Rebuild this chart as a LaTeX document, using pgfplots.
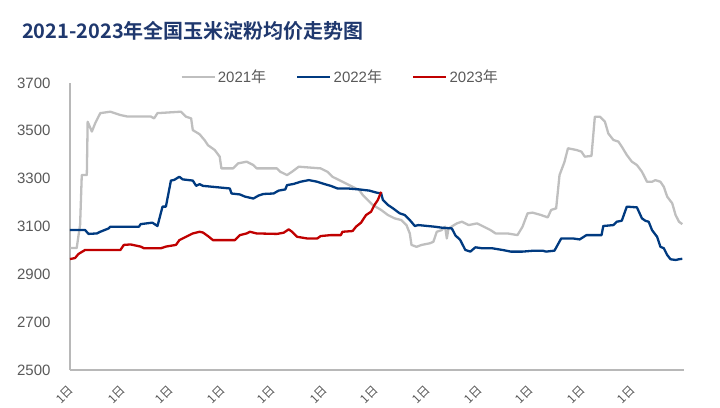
\documentclass[border=0pt]{standalone}
\usepackage{pgfplots}
\pgfplotsset{compat=1.18}
\usepackage{fontspec}
\setmainfont{Liberation Sans}
\newfontfamily\cjk[BoldFont={Noto Sans CJK SC Bold}]{Noto Sans CJK SC}
\definecolor{c21}{RGB}{191,191,191}
\definecolor{c22}{RGB}{0,58,128}
\definecolor{c23}{RGB}{192,0,0}
\definecolor{titlec}{RGB}{31,56,110}
\definecolor{tickc}{RGB}{89,89,89}
\begin{document}
\begin{tikzpicture}
\useasboundingbox (-70pt,-37pt) rectangle (650pt,370pt);
\node[anchor=west,font={\cjk\bfseries\fontsize{20}{20}\selectfont},text=titlec,inner sep=0pt] at (-48pt,339pt) {2021-2023年全国玉米淀粉均价走势图};
\begin{axis}[
  at={(0pt,0pt)}, anchor=south west,
  scale only axis, width=614pt, height=287pt,
  xmin=0, xmax=365, ymin=2500, ymax=3700,
  axis x line*=bottom, axis y line*=left,
  axis line style={draw=black!28, line width=1.4pt, -},
  major tick length=0pt,
  ytick={2500,2700,2900,3100,3300,3500,3700},
  xtick={0,31,59,90,120,151,181,212,243,273,304,334},
  xticklabels={1日,1日,1日,1日,1日,1日,1日,1日,1日,1日,1日,1日},
  xticklabel style={rotate=45, anchor=east, font={\cjk\fontsize{12}{12}\selectfont}, text=tickc, yshift=-14pt, xshift=-11pt, inner sep=1pt},
  yticklabel style={font=\fontsize{15}{15}\selectfont, text=tickc, anchor=east, xshift=-16pt},
  /pgf/number format/assume math mode=true,
  /pgf/number format/1000 sep={},
  legend style={draw=none, at={(0.44,1.021)}, anchor=center, legend columns=3, font=\fontsize{15}{15}\selectfont, text=tickc, /tikz/every even column/.append style={column sep=28pt}, inner sep=0pt},
  legend image code/.code={\draw[#1, line width=2.5pt] (0pt,0pt) -- (33pt,0pt);},
  every axis plot/.append style={line width=2.3pt, line join=round, no markers},
]
\addplot[c21] coordinates {(0,3010)(4,3010)(5,3060)(6,3106)(7,3315)(10,3315)(10.5,3538)(13,3497)(15,3532)(18,3574)(24,3580)(30,3566)(34,3560)(48,3560)(50,3552)(52,3574)(59,3577)(66,3580)(69,3559)(72,3552)(73,3503)(77,3486)(80,3461)(82,3440)(86,3420)(89,3392)(90,3343)(97,3343)(100,3364)(105,3371)(109,3357)(111,3343)(123,3343)(125,3329)(129,3315)(132,3329)(136,3350)(149,3343)(153,3329)(156,3308)(160,3294)(166,3273)(170,3259)(172,3252)(174,3232)(178,3204)(180,3190)(185,3169)(189,3148)(193,3134)(197,3127)(200,3106)(202,3071)(203,3023)(206,3015)(209,3023)(214,3030)(216,3036)(218,3078)(221,3085)(223,3099)(224,3050)(225,3092)(230,3113)(233,3120)(237,3106)(242,3113)(246,3099)(250,3085)(253,3071)(260,3071)(266,3064)(269,3099)(272,3155)(275,3158)(280,3148)(284,3138)(286,3169)(289,3176)(291,3315)(294,3371)(296,3427)(301,3420)(304,3413)(306,3392)(310,3395)(312,3559)(315,3559)(318,3538)(320,3489)(323,3462)(326,3455)(328,3434)(331,3399)(334,3371)(337,3357)(340,3329)(343,3287)(346,3287)(348,3294)(351,3287)(353,3266)(355,3225)(358,3197)(360,3148)(362,3120)(364,3110)};
\addlegendentry{2021{\cjk 年}}
\addplot[c22] coordinates {(0,3085)(9,3085)(11,3069)(16,3071)(18,3078)(23,3092)(24,3099)(41,3099)(42,3110)(49,3116)(52,3102)(55,3183)(57,3183)(60,3292)(62,3295)(65,3308)(67,3297)(73,3292)(75,3270)(77,3277)(79,3270)(95,3259)(96,3238)(101,3234)(104,3225)(109,3217)(112,3229)(115,3236)(121,3238)(124,3250)(128,3255)(129,3273)(133,3278)(137,3287)(142,3294)(147,3287)(151,3278)(155,3270)(159,3259)(165,3259)(172,3255)(178,3250)(182,3242)(185,3238)(186,3211)(189,3190)(192,3176)(196,3155)(199,3148)(202,3127)(205,3102)(207,3106)(217,3099)(221,3095)(227,3092)(229,3064)(232,3043)(235,3002)(238,2995)(241,3013)(245,3009)(251,3009)(257,3002)(262,2995)(269,2995)(276,2999)(281,2999)(283,2995)(288,2999)(292,3050)(299,3050)(303,3046)(307,3064)(316,3064)(317,3102)(323,3106)(325,3120)(328,3124)(331,3183)(337,3180)(340,3134)(342,3124)(344,3120)(346,3085)(349,3057)(351,3015)(353,3009)(355,2981)(357,2963)(360,2960)(362,2963)(364,2965)};
\addlegendentry{2022{\cjk 年}}
\addplot[c23] coordinates {(0,2964)(3,2968)(5,2985)(9,3002)(30,3002)(32,3023)(36,3025)(42,3016)(44,3009)(54,3009)(57,3016)(63,3023)(65,3043)(69,3057)(73,3071)(77,3078)(79,3075)(82,3060)(85,3043)(98,3043)(101,3064)(105,3071)(107,3078)(111,3071)(123,3069)(127,3074)(130,3088)(132,3078)(135,3057)(141,3050)(147,3050)(149,3060)(155,3064)(161,3064)(162,3078)(168,3081)(170,3099)(173,3116)(176,3148)(179,3162)(181,3190)(183,3211)(185,3245)};
\addlegendentry{2023{\cjk 年}}
\end{axis}
\end{tikzpicture}
\end{document}
